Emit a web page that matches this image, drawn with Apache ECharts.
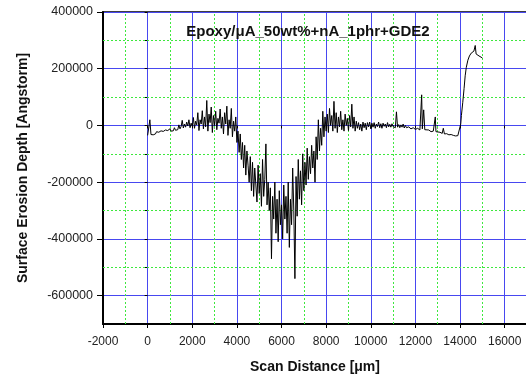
<!DOCTYPE html>
<html>
<head>
<meta charset="utf-8">
<script src="https://cdn.jsdelivr.net/npm/echarts@6/dist/echarts.min.js"></script>
<style>html,body{margin:0;padding:0;background:#fff}#c{width:526px;height:376px}</style>
</head>
<body>
<div id="c"></div>
<script>
const title = 'Epoxy/\u03bcA_50wt%+nA_1phr+GDE2';
const xName = 'Scan Distance [\u03bcm]';
const yName = 'Surface Erosion Depth [Angstorm]';

// minor (green dotted) grid positions
const minorX = [-1000, 1000, 3000, 5000, 7000, 9000, 11000, 13000, 15000];
const minorY = [-500000, -300000, -100000, 100000, 300000];

const distance = [
  0,50,100,150,200,250,300,350,400,450,500,550,600,650,700,750,800,850,900,950,
  1000,1050,1100,1150,1200,1250,1300,1350,1400,1450,1500,1550,1600,1650,1700,1750,1800,1850,1900,1950,
  2000,2050,2100,2150,2200,2250,2300,2350,2400,2450,2500,2550,2600,2650,2700,2750,2800,2850,2900,2950,
  3000,3050,3100,3150,3200,3250,3300,3350,3400,3450,3500,3550,3600,3650,3700,3750,3800,3850,3900,3950,
  4000,4050,4100,4150,4200,4250,4300,4350,4400,4450,4500,4550,4600,4650,4700,4750,4800,4850,4900,4950,
  5000,5050,5100,5150,5200,5250,5300,5350,5400,5450,5500,5550,5600,5650,5700,5750,5800,5850,5900,5950,
  6000,6050,6100,6150,6200,6250,6300,6350,6400,6450,6500,6550,6600,6650,6700,6750,6800,6850,6900,6950,
  7000,7050,7100,7150,7200,7250,7300,7350,7400,7450,7500,7550,7600,7650,7700,7750,7800,7850,7900,7950,
  8000,8050,8100,8150,8200,8250,8300,8350,8400,8450,8500,8550,8600,8650,8700,8750,8800,8850,8900,8950,
  9000,9050,9100,9150,9200,9250,9300,9350,9400,9450,9500,9550,9600,9650,9700,9750,9800,9850,9900,9950,
  10000,10050,10100,10150,10200,10250,10300,10350,10400,10450,10500,10550,10600,10650,10700,10750,10800,10850,10900,10950,
  11000,11050,11100,11150,11200,11250,11300,11350,11400,11450,11500,11550,11600,11700,11800,11900,12000,12100,12200,12250,
  12280,12310,12370,12420,12500,12600,12700,12800,12860,12890,12920,13000,13100,13200,13250,13300,13400,13500,13600,13700,
  13800,13900,13980,14030,14060,14120,14180,14230,14280,14350,14420,14500,14560,14620,14680,14720,14780,14850,14920,15000
];

const depth = [
  -35000,-28000,20000,-32000,-25000,-33000,-26000,-30000,-22000,-29000,
  -24000,-27000,-19000,-26000,-21000,-24000,-16000,-23000,-18000,-22000,
  -12000,-20000,-14000,-19000,-8000,-17000,-10000,-15000,2000,-12000,
  -4000,18000,-9000,5000,-6000,12000,-2000,20000,-8000,8000,
  -3000,28000,-10000,15000,2000,45000,-18000,20000,5000,52000,
  -12000,30000,-5000,88000,-20000,40000,10000,65000,-25000,35000,
  0,50000,-15000,25000,8000,58000,-10000,30000,-30000,45000,
  5000,68000,-35000,20000,-10000,60000,-40000,15000,-20000,30000,
  -60000,
  -20000,-95000,-30000,-120000,-60000,-150000,-70000,-175000,-90000,-140000,
  -200000,-110000,-230000,-130000,-250000,-150000,-210000,-270000,-140000,-240000,
  -170000,-285000,-120000,-250000,-190000,-65000,-280000,-200000,-300000,-220000,
  -470000,-250000,-330000,-200000,-380000,-260000,-410000,-230000,-350000,-280000,
  -400000,-210000,-330000,-250000,-380000,-200000,-430000,-260000,-350000,-150000,
  -300000,-540000,-180000,-320000,-120000,-260000,-160000,-280000,-100000,-230000,
  -130000,-210000,-80000,-190000,-110000,-170000,-70000,-150000,-90000,-200000,
  -40000,-120000,20000,-90000,-10000,-70000,50000,-40000,30000,-20000,
  40000,-25000,60000,0,35000,-20000,85000,-10000,45000,-25000,
  30000,-5000,50000,-15000,20000,-20000,40000,0,25000,-18000,
  35000,-5000,75000,-10000,30000,-20000,15000,-10000,10000,-15000,
  5000,-20000,12000,-8000,8000,-15000,10000,-5000,12000,-12000,
  8000,-6000,10000,-10000,5000,-4000,12000,-8000,6000,-10000,
  8000,-3000,5000,-8000,10000,-5000,4000,-6000,6000,-4000,
  0,-8000,48000,-6000,3000,-8000,2000,-6000,5000,-9000,0,-8000,-5000,-12000,-8000,-14000,-10000,-16000,-14000,
  108000,-12000,55000,-15000,-18000,-16000,-22000,-20000,-18000,30000,-22000,-25000,-24000,-28000,-10000,-30000,-29000,-33000,-32000,-35000,
  -37000,-36000,-40000,5000,35000,80000,130000,175000,205000,230000,245000,255000,250000,262000,282000,252000,258000,245000,242000,238000
];

const FONT = "'Liberation Sans', Arial, sans-serif";
const chart = echarts.init(document.getElementById('c'), null, {renderer: 'canvas'});
const pairs = distance.map((d, i) => [d, depth[i]]);
const GREEN = '#3ee83e';
const minorLines = minorX.map(v => ({xAxis: v})).concat(minorY.map(v => ({yAxis: v})));

chart.setOption({
  animation: false,
  backgroundColor: '#fff',
  title: {
    text: title, left: 303, top: 19, textAlign: 'center',
    textStyle: {fontFamily: FONT, fontSize: 15, fontWeight: 'bold', color: '#111'}
  },
  grid: {left: 103, right: -1, top: 12, bottom: 52, containLabel: false, outerBoundsMode: 'none',
    show: true, borderColor: '#000', borderWidth: 1.5, backgroundColor: 'transparent'},
  xAxis: [
    {
      type: 'value', position: 'bottom', min: -2000, max: 17000, interval: 2000,
      name: xName, nameLocation: 'middle', nameGap: 36,
      nameTextStyle: {fontFamily: FONT, fontSize: 14, fontWeight: 'bold', color: '#111'},
      axisLine: {show: true, onZero: false, lineStyle: {color: '#000', width: 2}},
      axisTick: {show: true, inside: false, length: 4, lineStyle: {color: '#000', width: 1}},
      axisLabel: {show: true, showMaxLabel: false, margin: 12, fontFamily: FONT, fontSize: 12, color: '#222',
        formatter: v => String(v)},
      splitLine: {show: true, lineStyle: {color: '#4848f0', width: 1, type: 'solid'}}
    },
    {
      type: 'value', position: 'bottom', min: -2000, max: 17000, interval: 1000,
      axisLine: {show: false},
      axisTick: {show: true, inside: false, length: 3, lineStyle: {color: '#000', width: 1}},
      axisLabel: {show: false},
      splitLine: {show: false}
    }
  ],
  yAxis: [
    {
      type: 'value', position: 'left', min: -700000, max: 400000, splitNumber: 5,
      name: yName, nameLocation: 'middle', nameGap: 73, nameRotate: 90,
      nameTextStyle: {fontFamily: FONT, fontSize: 14, fontWeight: 'bold', color: '#111'},
      axisLine: {show: true, onZero: false, lineStyle: {color: '#000', width: 2}},
      axisTick: {show: true, inside: false, length: 6, lineStyle: {color: '#000', width: 1}},
      axisLabel: {show: true, showMinLabel: false, margin: 10, fontFamily: FONT, fontSize: 12.5, color: '#222',
        formatter: v => String(v)},
      splitLine: {show: true, lineStyle: {color: '#4848f0', width: 1, type: 'solid'}}
    },
    {
      type: 'value', position: 'left', min: -700000, max: 400000, interval: 100000,
      axisLine: {show: false},
      axisTick: {show: true, inside: false, length: 3, lineStyle: {color: '#000', width: 1}},
      axisLabel: {show: false},
      splitLine: {show: false}
    }
  ],
  series: [
    {
      type: 'line', xAxisIndex: 0, yAxisIndex: 0, data: [],
      z: 1,
      markLine: {
        silent: true, symbol: ['none', 'none'], animation: false,
        label: {show: false},
        lineStyle: {color: GREEN, width: 1, type: [2, 2]},
        emphasis: {disabled: true},
        data: minorLines
      }
    },
    {
      type: 'line', xAxisIndex: 0, yAxisIndex: 0, data: pairs,
      showSymbol: false, symbol: 'none',
      lineStyle: {color: '#000', width: 1},
      z: 5
    }
  ]
});
</script>
</body>
</html>
